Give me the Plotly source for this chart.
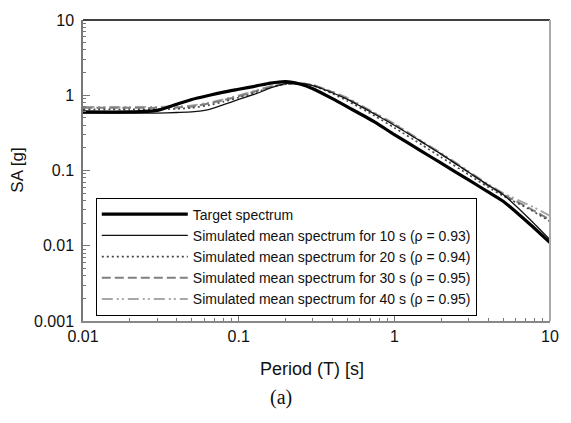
import plotly.graph_objects as go

# Spectral periods (s)
period = [0.01, 0.02, 0.03, 0.04, 0.05, 0.065, 0.08, 0.1, 0.13, 0.16, 0.2, 0.25,
          0.3, 0.4, 0.5, 0.75, 1.0, 1.5, 2.0, 3.0, 4.0, 5.0, 7.5, 10.0]

# Spectral accelerations (g)
sa_target = [0.60, 0.60, 0.63, 0.76, 0.88, 1.00, 1.10, 1.20, 1.33, 1.45, 1.52, 1.40,
             1.22, 0.90, 0.70, 0.44, 0.30, 0.18, 0.125, 0.075, 0.052, 0.039, 0.019, 0.011]
sa_10s = [0.58, 0.58, 0.58, 0.59, 0.60, 0.65, 0.75, 0.88, 1.05, 1.25, 1.43, 1.44,
          1.34, 1.08, 0.88, 0.56, 0.40, 0.24, 0.165, 0.095, 0.064, 0.048, 0.022, 0.012]
sa_20s = [0.65, 0.65, 0.65, 0.66, 0.68, 0.74, 0.82, 0.93, 1.10, 1.27, 1.40, 1.43,
          1.34, 1.05, 0.84, 0.53, 0.37, 0.22, 0.15, 0.088, 0.060, 0.046, 0.030, 0.021]
sa_30s = [0.68, 0.68, 0.68, 0.69, 0.71, 0.78, 0.86, 0.97, 1.14, 1.30, 1.40, 1.44,
          1.36, 1.10, 0.90, 0.57, 0.41, 0.24, 0.165, 0.095, 0.063, 0.048, 0.031, 0.022]
sa_40s = [0.70, 0.70, 0.70, 0.71, 0.73, 0.80, 0.88, 0.99, 1.16, 1.31, 1.41, 1.45,
          1.37, 1.11, 0.92, 0.58, 0.42, 0.245, 0.17, 0.098, 0.066, 0.050, 0.034, 0.025]

names = [
    "Target spectrum",
    "Simulated mean spectrum for 10 s (\u03c1 = 0.93)",
    "Simulated mean spectrum for 20 s (\u03c1 = 0.94)",
    "Simulated mean spectrum for 30 s (\u03c1 = 0.95)",
    "Simulated mean spectrum for 40 s (\u03c1 = 0.95)",
]

x_ticks = [0.01, 0.1, 1, 10]
x_ticktext = ["0.01", "0.1", "1", "10"]
y_ticks = [0.001, 0.01, 0.1, 1, 10]
y_ticktext = ["0.001", "0.01", "0.1", "1", "10"]

FONT = "Liberation Sans, Arial, sans-serif"

styles = [
    dict(color="#000000", width=3.2, dash="solid"),
    dict(color="#111111", width=1.3, dash="solid"),
    dict(color="#444444", width=1.6, dash="2px,3px"),
    dict(color="#808080", width=2.0, dash="9px,4px"),
    dict(color="#a8a8a8", width=2.0, dash="11px,4px,2px,3px,2px,4px"),
]

series = [sa_target, sa_10s, sa_20s, sa_30s, sa_40s]

fig = go.Figure()
# simulated spectra first so the target stays on top; legend order fixed by rank
for i in [4, 3, 2, 1, 0]:
    fig.add_trace(go.Scatter(
        x=period, y=series[i], mode="lines", name=names[i],
        line=dict(shape="spline", smoothing=0.6, **styles[i]),
        legendrank=i + 1,
    ))

minor_x = [m * 10 ** e for e in range(-2, 1) for m in range(2, 10)]
minor_y = [m * 10 ** e for e in range(-3, 1) for m in range(2, 10)]

fig.update_xaxes(
    type="log", range=[-2, 1],
    tickvals=x_ticks, ticktext=x_ticktext,
    ticks="inside", ticklen=7, tickcolor="#777777", tickwidth=1,
    minor=dict(tickvals=minor_x, ticks="inside", ticklen=3, tickcolor="#777777", showgrid=False),
    showline=True, linecolor="#888888", linewidth=1.5, mirror=False,
    showgrid=False, zeroline=False,
    tickfont=dict(family=FONT, size=16, color="#111111"),
)
fig.update_yaxes(
    type="log", range=[-3, 1],
    tickvals=y_ticks, ticktext=y_ticktext,
    ticks="inside", ticklen=7, tickcolor="#777777", tickwidth=1,
    minor=dict(tickvals=minor_y, ticks="inside", ticklen=3, tickcolor="#777777", showgrid=False),
    showline=True, linecolor="#777777", linewidth=1.5, mirror=False,
    showgrid=False, zeroline=False,
    tickfont=dict(family=FONT, size=16, color="#111111"),
    ticklabelstandoff=4,
)

# frame: black top edge, light grey right edge
fig.add_shape(type="line", xref="paper", yref="paper", x0=0, x1=1, y0=1, y1=1,
              line=dict(color="#000000", width=1.5))
fig.add_shape(type="line", xref="paper", yref="paper", x0=1, x1=1, y0=0, y1=1,
              line=dict(color="#aaaaaa", width=2))

fig.add_annotation(text="SA [g]", xref="paper", yref="paper", x=-0.141, y=0.5,
                   xanchor="center", yanchor="middle",
                   textangle=-90, showarrow=False,
                   font=dict(family=FONT, size=17, color="#111111"))
fig.add_annotation(text="Period (T) [s]", xref="paper", yref="paper", x=0.49, y=-0.16,
                   xanchor="center", yanchor="middle",
                   showarrow=False, font=dict(family=FONT, size=18, color="#111111"))
fig.add_annotation(text="(a)", xref="paper", yref="paper", x=0.423, y=-0.255,
                   xanchor="center", yanchor="middle",
                   showarrow=False,
                   font=dict(family="Liberation Serif, Times New Roman, serif", size=20, color="#111111"))

fig.update_layout(
    width=571, height=423,
    margin=dict(l=83, r=14, t=14, b=102),
    paper_bgcolor="white", plot_bgcolor="white",
    showlegend=True,
    legend=dict(
        x=0.0274, y=0.41, xanchor="left", yanchor="top",
        bgcolor="white", bordercolor="#000000", borderwidth=1,
        font=dict(family=FONT, size=14, color="#111111"),
        itemwidth=86, traceorder="normal",
        tracegroupgap=0,
    ),
)

fig.write_html("out.html")
